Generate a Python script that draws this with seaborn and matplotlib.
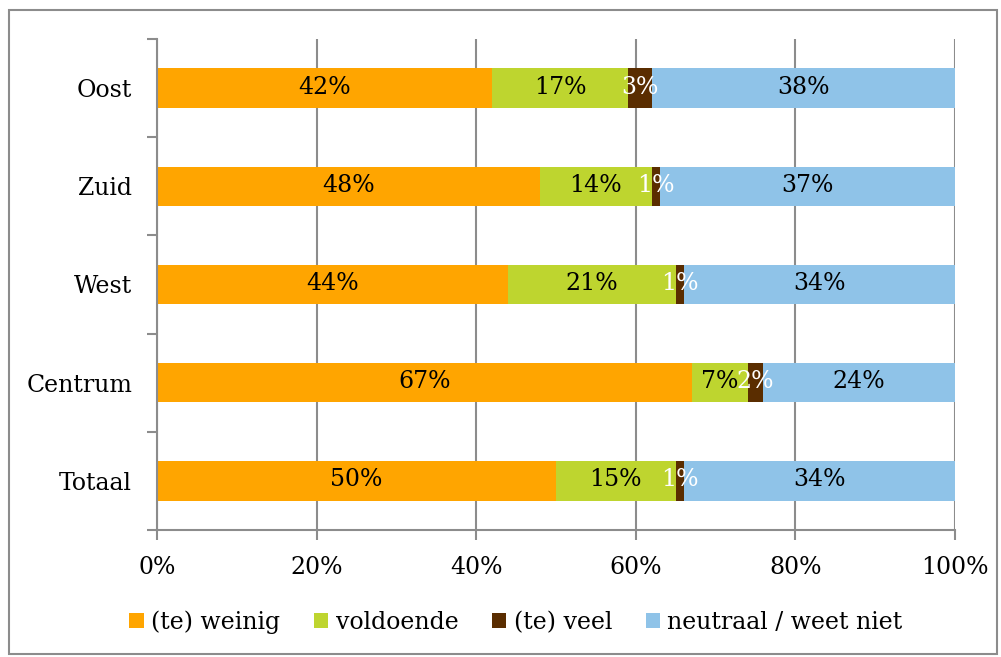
import matplotlib
matplotlib.use("Agg")
import matplotlib.pyplot as plt
import pandas as pd
import seaborn as sns
from matplotlib.patches import Rectangle
from matplotlib.ticker import FixedLocator

# Data: share of answers per region (percent)
regions = ["Oost", "Zuid", "West", "Centrum", "Totaal"]
weinig = [42, 48, 44, 67, 50]
voldoende = [17, 14, 21, 7, 15]
veel = [3, 1, 1, 2, 1]
neutraal = [38, 37, 34, 24, 34]
series_names = ["(te) weinig", "voldoende", "(te) veel", "neutraal / weet niet"]
x_ticks = [0, 20, 40, 60, 80, 100]
x_tick_labels = ["0%", "20%", "40%", "60%", "80%", "100%"]

colors = ["#FFA500", "#BED52F", "#5A2D00", "#8FC3E8"]
label_colors = ["black", "black", "white", "black"]
grey = "#8C8C8C"

sns.set_theme(style="white")
plt.rcParams["font.family"] = ["DejaVu Serif"]
plt.rcParams["text.color"] = "black"
fs = 17

df = pd.DataFrame({"regio": regions,
                   series_names[0]: weinig,
                   series_names[1]: voldoende,
                   series_names[2]: veel,
                   series_names[3]: neutraal})
cum = df[series_names].cumsum(axis=1)

fig = plt.figure(figsize=(10.01, 6.57), dpi=100)
ax = fig.add_axes([157 / 1001, 1 - 530 / 657, 798 / 1001, 491 / 657])

# Stacked bars: draw cumulative totals from the outermost segment inwards
for i in reversed(range(len(series_names))):
    sns.barplot(x=cum[series_names[i]], y=df["regio"], order=regions,
                color=colors[i], saturation=1, width=0.4, orient="h",
                edgecolor="none", linewidth=0, ax=ax, label=series_names[i])

handles, labels = ax.get_legend_handles_labels()
if ax.get_legend() is not None:
    ax.get_legend().remove()

# Value labels centred in each segment
for i, name in enumerate(series_names):
    for j, region in enumerate(regions):
        v = df.loc[j, name]
        center = cum.loc[j, name] - v / 2
        ax.text(center, j - 0.01, f"{v}%", ha="center", va="center",
                fontsize=fs, color=label_colors[i])

ax.set_xlim(0, 100)
ax.set_ylim(len(regions) - 0.5, -0.5)
ax.set_xlabel("")
ax.set_ylabel("")

ax.set_axisbelow(True)
ax.xaxis.grid(True, color=grey, linewidth=1.5)
ax.yaxis.grid(False)
ax.xaxis.set_major_locator(FixedLocator(x_ticks))
ax.set_xticklabels(x_tick_labels)

ax.yaxis.set_minor_locator(FixedLocator([k - 0.5 for k in range(len(regions) + 1)]))
ax.tick_params(axis="y", which="major", length=0, pad=18, labelsize=fs, labelcolor="black")
ax.tick_params(axis="y", which="minor", left=True, length=7, width=1.5, color=grey, direction="out")
ax.tick_params(axis="x", which="major", bottom=True, length=7, width=1.5, color=grey,
               direction="out", pad=12, labelsize=fs, labelcolor="black")

for side in ["top", "right"]:
    ax.spines[side].set_visible(False)
for side in ["left", "bottom"]:
    ax.spines[side].set_color(grey)
    ax.spines[side].set_linewidth(1.5)

# Legend below the plot
order = [labels.index(n) for n in series_names]
fig.legend([handles[k] for k in order], [labels[k] for k in order],
           loc="center", bbox_to_anchor=(516 / 1001, 1 - 622 / 657), ncol=4,
           frameon=False, fontsize=fs, handlelength=0.62, handleheight=0.62,
           handletextpad=0.3, columnspacing=1.42, labelcolor="black")

# Chart area frame
fig.patches.append(Rectangle((9 / 1001, 3 / 657), 988 / 1001, 644 / 657,
                             transform=fig.transFigure, fill=False,
                             edgecolor=grey, linewidth=1.5))

fig.savefig("out.png", dpi=100)
